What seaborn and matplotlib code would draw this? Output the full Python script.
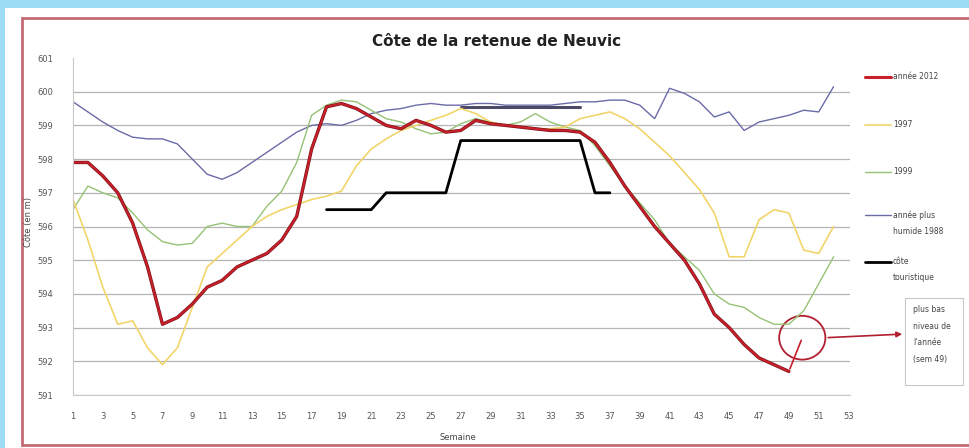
import matplotlib
matplotlib.use("Agg")
import matplotlib.pyplot as plt
import seaborn as sns
from matplotlib.patches import Rectangle, Ellipse
from matplotlib.lines import Line2D

# Data

weeks_2012 = list(range(1, 50))
cote_2012 = [597.9, 597.9, 597.5, 597.0, 596.1, 594.8, 593.1, 593.3, 593.7, 594.2,
             594.4, 594.8, 595.0, 595.2, 595.6, 596.3, 598.3, 599.55, 599.65, 599.5,
             599.25, 599.0, 598.9, 599.15, 599.0, 598.8, 598.85, 599.15, 599.05, 599.0,
             598.95, 598.9, 598.85, 598.85, 598.8, 598.5, 597.9, 597.2, 596.6, 596.0,
             595.5, 595.0, 594.3, 593.4, 593.0, 592.5, 592.1, 591.9, 591.7]

weeks_1997 = list(range(1, 53))
cote_1997 = [596.8, 595.6, 594.2, 593.1, 593.2, 592.4, 591.9, 592.4, 593.6, 594.8,
             595.2, 595.6, 596.0, 596.3, 596.5, 596.65, 596.8, 596.9, 597.05, 597.8,
             598.3, 598.6, 598.85, 599.0, 599.15, 599.3, 599.5, 599.35, 599.1, 599.0,
             598.95, 598.9, 598.9, 598.95, 599.2, 599.3, 599.4, 599.2, 598.9, 598.5,
             598.1, 597.6, 597.1, 596.4, 595.1, 595.1, 596.2, 596.5, 596.4, 595.3,
             595.2, 596.0]

weeks_1999 = list(range(1, 53))
cote_1999 = [596.5, 597.2, 597.0, 596.85, 596.4, 595.9, 595.55, 595.45, 595.5, 596.0,
             596.1, 596.0, 596.0, 596.6, 597.05, 597.9, 599.3, 599.6, 599.75, 599.7,
             599.45, 599.2, 599.1, 598.9, 598.75, 598.8, 599.05, 599.2, 599.1, 599.0,
             599.1, 599.35, 599.1, 598.95, 598.85, 598.4, 597.8, 597.2, 596.7, 596.2,
             595.5, 595.1, 594.7, 594.0, 593.7, 593.6, 593.3, 593.1, 593.1, 593.5,
             594.3, 595.1]

weeks_1988 = list(range(1, 53))
cote_1988 = [599.7, 599.4, 599.1, 598.85, 598.65, 598.6, 598.6, 598.45, 598.0, 597.55,
             597.4, 597.6, 597.9, 598.2, 598.5, 598.8, 599.0, 599.05, 599.0, 599.15,
             599.35, 599.45, 599.5, 599.6, 599.65, 599.6, 599.6, 599.65, 599.65, 599.6,
             599.6, 599.6, 599.6, 599.65, 599.7, 599.7, 599.75, 599.75, 599.6, 599.2,
             600.1, 599.95, 599.7, 599.25, 599.4, 598.85, 599.1, 599.2, 599.3, 599.45,
             599.4, 600.15]

weeks_touristique = [18, 21, 22, 26, 27, 35, 36, 37]
cote_touristique = [596.5, 596.5, 597.0, 597.0, 598.55, 598.55, 597.0, 597.0]

weeks_plafond = [27, 35]
cote_plafond = [599.55, 599.55]

x_ticks = list(range(1, 54, 2))
y_ticks = list(range(591, 602))

legend_labels = ["année 2012", "1997", "1999", "année plus\nhumide 1988", "côte\ntouristique"]
note_text = "plus bas\nniveau de\nl'année\n(sem 49)"

# Figure

sns.set_style("white")
plt.rcParams["font.family"] = ["DejaVu Sans"]

fig = plt.figure(figsize=(9.69, 4.48), dpi=100)
fig.patch.set_facecolor("#9ddcf5")
fig.patches.append(Rectangle((5 / 969, 0), 1, 1 - 8 / 448, transform=fig.transFigure,
                             facecolor="white", edgecolor="none", zorder=-3))
fig.patches.append(Rectangle((22 / 969, 3 / 448), 1, 1 - 21 / 448, transform=fig.transFigure,
                             facecolor="white", edgecolor="#c46a74", linewidth=2, zorder=-2))

ax = fig.add_axes([73 / 969, 1 - 395 / 448, (850 - 73) / 969, (395 - 58) / 448])
ax.set_facecolor("none")

red = "#c8202a"
yellow = "#f2d56a"
green = "#96c275"
blue = "#6b6ba8"

sns.lineplot(x=weeks_1988, y=cote_1988, ax=ax, color=blue, lw=1.0)
sns.lineplot(x=weeks_plafond, y=cote_plafond, ax=ax, color="#4b4b68", lw=2.2)
sns.lineplot(x=weeks_1999, y=cote_1999, ax=ax, color=green, lw=1.0)
sns.lineplot(x=weeks_1997, y=cote_1997, ax=ax, color=yellow, lw=1.2)
sns.lineplot(x=weeks_touristique, y=cote_touristique, ax=ax, color="black", lw=2.0)
sns.lineplot(x=weeks_2012, y=cote_2012, ax=ax, color="#7a1018", lw=2.4)
sns.lineplot(x=weeks_2012, y=cote_2012, ax=ax, color=red, lw=1.5)

ax.set_xlim(1, 53.1)
ax.set_ylim(591, 601)
ax.set_xticks(x_ticks)
ax.set_yticks(y_ticks)
ax.tick_params(axis="x", labelsize=6, colors="#555555", pad=12, length=0)
ax.tick_params(axis="y", labelsize=6, colors="#555555", pad=14, length=0)
ax.grid(axis="y", color="#b5b5b5", lw=0.9)
ax.get_ygridlines()[-1].set_visible(False)
for s in ["top", "right"]:
    ax.spines[s].set_visible(False)
for s in ["left", "bottom"]:
    ax.spines[s].set_color("#c8c8c8")
    ax.spines[s].set_linewidth(0.8)

ax.set_xlabel("")
ax.set_ylabel("")
fig.text(458 / 969, 1 - 437 / 448, "Semaine", fontsize=6, color="#444444", ha="center", va="center")
fig.text(29 / 969, 1 - 222 / 448, "Côte (en m)", fontsize=6, color="#444444",
         rotation=90, ha="center", va="center")
fig.text(497 / 969, 1 - 42 / 448, "Côte de la retenue de Neuvic", fontsize=11,
         fontweight="bold", color="#222222", ha="center", va="center")

# Legend drawn by hand on the right

legend_styles = [(red, 2.2), (yellow, 1.2), (green, 1.0), (blue, 1.0), ("black", 2.0)]
legend_y = [77, 125, 172, 215, 262]
for (c, w), lab, y in zip(legend_styles, legend_labels, legend_y):
    yf = 1 - y / 448
    fig.lines.append(Line2D([865 / 969, 891 / 969], [yf, yf], transform=fig.transFigure,
                            color=c, lw=w))
    fig.text(893 / 969, yf + 5 / 448, lab, fontsize=5.5, color="#444444",
             ha="left", va="top", linespacing=2.0)

# Circle around the lowest point and note box

i_min = cote_2012.index(min(cote_2012))
w_min, v_min = weeks_2012[i_min], cote_2012[i_min]
cx, cy = w_min + 0.9, v_min + 1.0
ax.add_patch(Ellipse((cx, cy), 3.1, 1.3, fill=False, edgecolor="#b02030", lw=1.3, clip_on=False))
ax.annotate("", xy=(w_min, v_min), xytext=(cx, cy),
            arrowprops=dict(arrowstyle="-", color=red, lw=1.2))
ax.annotate("", xy=(905 / 969, 1 - 334 / 448), xycoords="figure fraction",
            xytext=(cx + 1.55, cy), textcoords="data",
            arrowprops=dict(arrowstyle="-|>", color="#b02030", lw=1.2, mutation_scale=8))

fig.patches.append(Rectangle((905 / 969, 1 - 385 / 448), 58 / 969, 87 / 448,
                             transform=fig.transFigure, facecolor="white",
                             edgecolor="#c8c8c8", lw=0.8))
fig.text(913 / 969, 1 - 305 / 448, note_text, fontsize=5.5, color="#444444",
         ha="left", va="top", linespacing=2.1)

plt.savefig("out.png", dpi=100, facecolor=fig.get_facecolor())
